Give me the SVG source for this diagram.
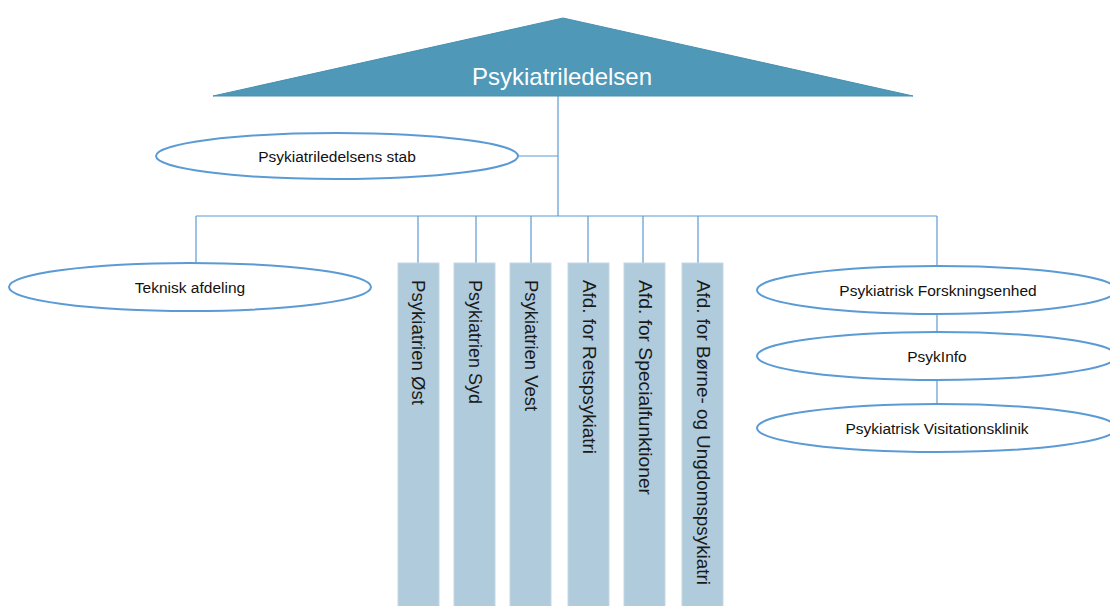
<svg xmlns="http://www.w3.org/2000/svg" width="1110" height="606" viewBox="0 0 1110 606">
<style>
.bg{fill:#ffffff}
.tri{fill:#4f98b8;stroke:#4a90b0;stroke-width:1}
.ell{fill:#ffffff;stroke:#5b9bd5;stroke-width:2}
.box{fill:#b0cbdb;stroke:#c4d8e4;stroke-width:1}
.con{fill:none;stroke:#5b9bd5;stroke-width:1.2}
.lbl{font-family:"Liberation Sans",Arial,sans-serif;font-size:15.5px;fill:#111111;text-anchor:middle}
.vt{font-family:"Liberation Sans",Arial,sans-serif;font-size:18px;fill:#1a1a1a;dominant-baseline:central}
.title{font-family:"Liberation Sans",Arial,sans-serif;font-size:24px;fill:#ffffff;text-anchor:middle}
</style>
<rect class="bg" x="0" y="0" width="1110" height="606"/>
<g id="connectors">
<path class="con" d="M558,96 V216 M518,156 H558 M196,216 H937 M196,216 V263 M418,216 V263 M476,216 V263 M531,216 V263 M588,216 V263 M643,216 V263 M698,216 V263 M937,216 V266 M937,314 V332 M937,380 V404"/>
</g>
<g id="psykiatriledelsen">
<polygon class="tri" points="563,18 913,96 213,96"/>
<text class="title" x="562" y="85">Psykiatriledelsen</text>
</g>
<g id="stab">
<ellipse class="ell" cx="337" cy="156" rx="181" ry="23"/>
<text class="lbl" x="337" y="162">Psykiatriledelsens stab</text>
</g>
<g id="teknisk">
<ellipse class="ell" cx="190" cy="287" rx="181" ry="24"/>
<text class="lbl" x="190" y="293">Teknisk afdeling</text>
</g>
<g id="oest">
<rect class="box" x="398" y="263" width="41" height="345"/>
<text class="vt" transform="translate(418,280) rotate(90)" x="0" y="0" textLength="125" lengthAdjust="spacingAndGlyphs">Psykiatrien Øst</text>
</g>
<g id="syd">
<rect class="box" x="454" y="263" width="41" height="345"/>
<text class="vt" transform="translate(475,280) rotate(90)" x="0" y="0" textLength="124" lengthAdjust="spacingAndGlyphs">Psykiatrien Syd</text>
</g>
<g id="vest">
<rect class="box" x="510" y="263" width="41" height="345"/>
<text class="vt" transform="translate(531,280) rotate(90)" x="0" y="0" textLength="131" lengthAdjust="spacingAndGlyphs">Psykiatrien Vest</text>
</g>
<g id="rets">
<rect class="box" x="568" y="263" width="41" height="345"/>
<text class="vt" transform="translate(589,280) rotate(90)" x="0" y="0" textLength="174" lengthAdjust="spacingAndGlyphs">Afd. for Retspsykiatri</text>
</g>
<g id="special">
<rect class="box" x="624" y="263" width="41" height="345"/>
<text class="vt" transform="translate(645,280) rotate(90)" x="0" y="0" textLength="215" lengthAdjust="spacingAndGlyphs">Afd. for Specialfunktioner</text>
</g>
<g id="boerne">
<rect class="box" x="682" y="263" width="41" height="345"/>
<text class="vt" transform="translate(703,280) rotate(90)" x="0" y="0" textLength="305" lengthAdjust="spacingAndGlyphs">Afd. for Børne- og Ungdomspsykiatri</text>
</g>
<g id="forskning">
<ellipse class="ell" cx="937" cy="290" rx="180" ry="24"/>
<text class="lbl" x="938" y="296">Psykiatrisk Forskningsenhed</text>
</g>
<g id="psykinfo">
<ellipse class="ell" cx="937" cy="356" rx="180" ry="24"/>
<text class="lbl" x="937" y="362">PsykInfo</text>
</g>
<g id="visitation">
<ellipse class="ell" cx="937" cy="428" rx="180" ry="24"/>
<text class="lbl" x="937" y="434">Psykiatrisk Visitationsklinik</text>
</g>
</svg>
